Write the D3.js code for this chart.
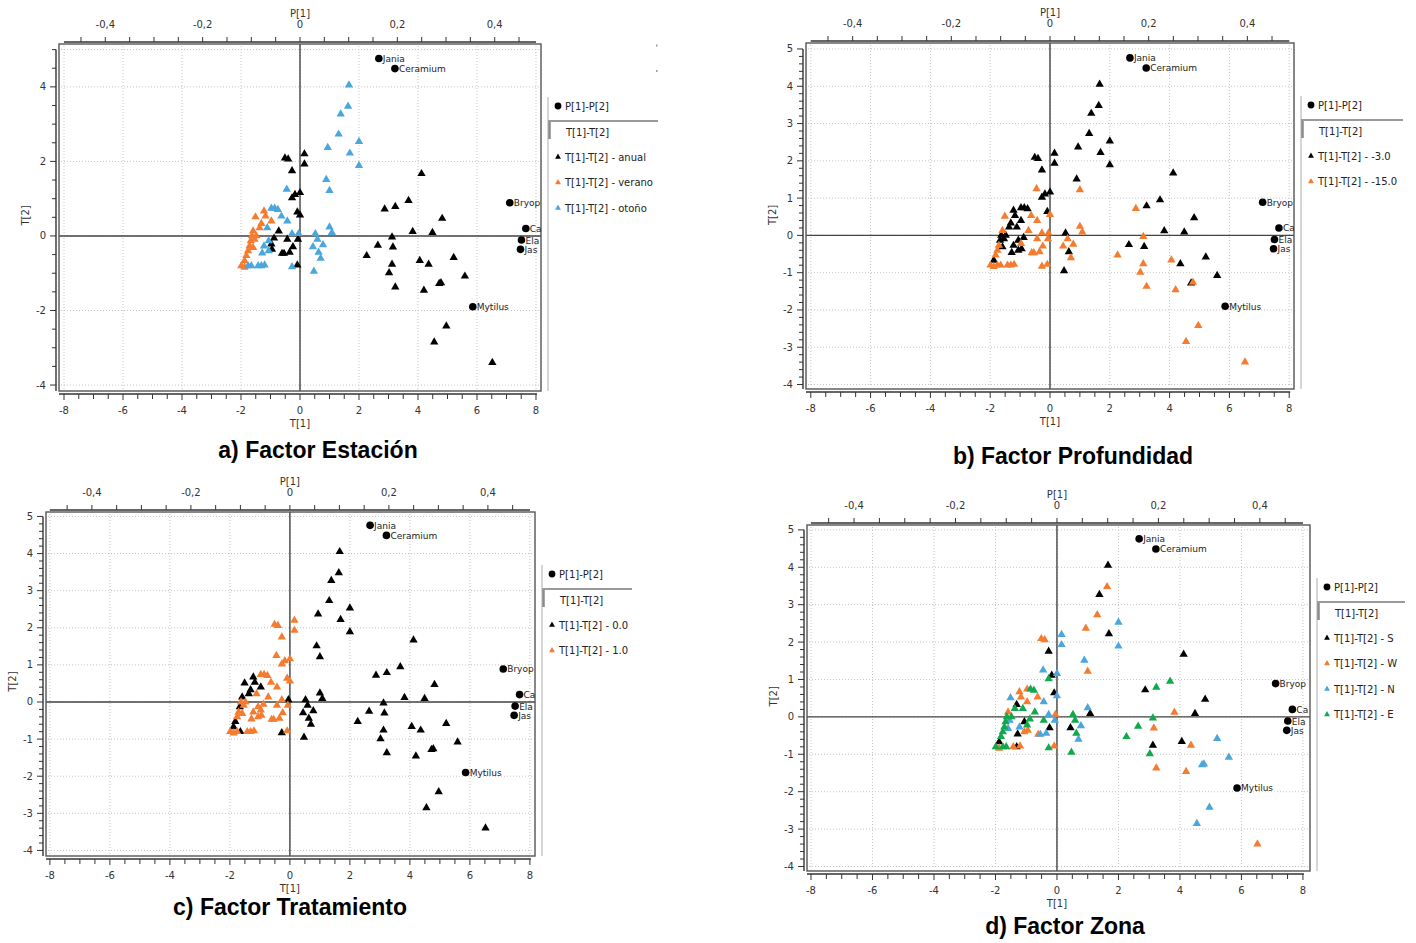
<!DOCTYPE html>
<html><head><meta charset="utf-8">
<script src="https://cdn.jsdelivr.net/npm/d3@7"></script>
<style>body{margin:0;background:#fff;} svg{display:block;}</style>
</head><body>
<svg id="chart" width="1416" height="943"></svg>
<script>
// ---------- DATA ----------
// Observation scores (same samples in every panel)
const scoresT1 = [
  1.66, 1.63, 1.38, 1.31, 0.94, 1.69, 2.00, 2.00, 0.89, 1.00,
  -0.51, -0.40, 0.15, 0.15, -0.27, -0.17, 0.00, -0.27, -0.09, 0.00, -0.45,
  4.12, 3.68, 3.23, 2.87, 4.82, 3.82, 4.49, 3.12, 2.64, 3.15, 2.26, 4.06, 4.36, 5.21, 3.12, 3.02, 5.59, 4.78, 3.23, 4.20, 4.96, 4.55, 6.52, 4.72,
  -1.51, -1.22, -1.17, -1.31, -0.97, -1.37, -1.59, -1.63, -1.67, -1.54,
  -1.71, -1.76, -1.82, -1.88, -1.99, -1.88, -1.48, -1.59, -0.97, -0.86,
  -0.75, -0.63, -0.43, -1.11, -0.27, -0.05, 1.00, 1.08, 0.52, 0.59,
  0.44, 0.78, 0.63, 0.70, 0.47, -0.27, -1.06, -1.22, -1.28, -1.06,
  -1.76, -1.65, -1.42, -1.31, -1.20, -0.72, -0.88, -0.97, -0.95, -0.61,
  -0.54, -0.43, -0.35, -0.24, -0.07, -0.09
];
const scoresT2 = [
  4.05, 3.48, 3.27, 2.73, 2.37, 2.22, 2.53, 1.89, 1.51, 1.22,
  2.09, 2.06, 2.20, 1.93, 1.75, 1.11, 1.16, 1.02, 0.64, 0.56, 1.25,
  1.67, 0.95, 0.79, 0.72, 0.47, 0.12, 0.09, -0.03, -0.25, -0.30, -0.53, -0.66, -0.76, -0.58, -0.76, -0.99, -1.08, -1.26, -1.37, -1.46, -2.42, -2.85, -3.40, -1.28,
  0.51, 0.67, 0.53, 0.33, 0.40, 0.22, 0.13, 0.00, -0.13, -0.09,
  -0.27, -0.40, -0.53, -0.67, -0.80, -0.84, 0.00, -0.31, 0.74, 0.74,
  0.71, 0.53, 0.40, 0.22, 0.06, 0.06, 0.24, 0.09, 0.06, -0.09,
  -0.29, -0.24, -0.44, -0.60, -0.95, -0.83, -0.13, -0.27, -0.46, -0.40,
  -0.80, -0.80, -0.80, -0.80, -0.78, 0.13, -0.06, -0.22, -0.36, -0.47,
  -0.47, -0.09, -0.44, -0.29, -0.09, -0.78
];
// Group index of each sample for each factor
const groupsEstacion = [
  2,2,2,2,2,2,2,2,2,2,
  0,0,0,0,0,0,0,0,0,0,2,
  0,0,0,0,0,0,0,0,0,0,0,0,0,0,0,0,0,0,0,0,0,0,0,0,
  1,1,1,1,1,1,1,1,1,1, 1,1,1,1,1,1,1,1,2,2,
  2,2,2,2,2,2,2,2,2,2, 2,2,2,2,2,2,2,2,2,2,
  2,2,2,2,2,0,0,0,0,0, 0,0,0,0,0,0
];
const groupsProfundidad = [
  0,0,0,0,0,0,0,0,0,1,
  0,0,0,0,0,0,0,0,0,1,1,
  0,0,0,1,0,0,0,1,0,0,1,1,0,0,1,1,0,1,1,1,1,1,1,0,
  1,0,0,0,0,0,1,0,0,0, 1,1,1,0,1,1,0,0,0,0,
  0,1,1,0,1,1,1,1,0,1, 1,1,0,1,0,1,0,0,0,0,
  1,1,1,1,1,1,0,1,0,1, 1,1,1,1,1,1
];
const groupsTratamiento = [
  0,0,0,0,0,0,0,0,0,0,
  1,1,1,1,1,1,1,1,1,1,1,
  0,0,0,0,0,0,0,0,0,0,0,0,0,0,0,0,0,0,0,0,0,0,0,0,
  0,0,0,0,0,0,0,1,0,1, 1,1,0,0,1,1,1,1,1,1,
  1,1,1,1,1,0,0,0,0,0, 0,0,0,0,0,0,1,1,1,1,
  1,0,1,1,1,1,1,1,1,1, 1,1,1,1,1,1
];
const groupsZona = [
  0,1,0,1,1,0,2,2,2,1,
  1,1,2,2,0,0,2,3,0,2,2,
  0,3,3,0,0,1,0,3,3,1,3,0,1,2,0,3,2,2,1,1,2,2,1,2,
  2,1,1,0,1,3,1,3,3,2, 3,3,3,0,3,1,3,2,1,3,
  3,1,2,3,2,1,2,0,3,3, 0,2,3,2,3,3,0,2,0,1,
  3,3,1,0,1,3,3,3,1,1, 2,3,2,0,2,1
];
// Variable loadings (P[1], P[2])
const loadingNames = ["Jania", "Ceramium", "Bryop", "Ca", "Ela", "Jas", "Mytilus"];
const loadingsP1 = [0.162, 0.195, 0.431, 0.464, 0.455, 0.453, 0.355];
const loadingsP2 = [0.476, 0.449, 0.089, 0.020, -0.011, -0.036, -0.190];
// Legend / series labels
const seriesEstacion = ["T[1]-T[2] - anual", "T[1]-T[2] - verano", "T[1]-T[2] - otoño"];
const seriesProfundidad = ["T[1]-T[2] - -3.0", "T[1]-T[2] - -15.0"];
const seriesTratamiento = ["T[1]-T[2] - 0.0", "T[1]-T[2] - 1.0"];
const seriesZona = ["T[1]-T[2] - S", "T[1]-T[2] - W", "T[1]-T[2] - N", "T[1]-T[2] - E"];
const captions = ["a) Factor Estación", "b) Factor Profundidad", "c) Factor Tratamiento", "d) Factor Zona"];
// Tick labels
const t1TickLabels = [-8, -6, -4, -2, 0, 2, 4, 6, 8];
const p1TickLabels = [-0.4, -0.2, 0, 0.2, 0.4];

// ---------- STYLE / LAYOUT ----------
const COL = {black: "#000000", orange: "#F47C30", blue: "#4BA6DC", green: "#12A84E"};
const P1_RATIO = 16.5;   // T[1] units per P[1] unit
const P2_RATIO = 10;     // T[2] units per P[2] unit
const FONT = "'DejaVu Sans', Verdana, sans-serif";

const panels = [
  {caption: captions[0], groups: groupsEstacion, series: seriesEstacion,
   colors: [COL.black, COL.orange, COL.blue],
   frame: {l: 59, r: 541, t: 44, b: 391}, xDom: [-8.17, 8.17], yDom: [-4.16, 5.15],
   yLabels: [-4, -2, 0, 2, 4], yMinor: 0.5, yGrid: [-4, -2, 0, 2, 4, 5], cap: [318, 450], marks: true, sep: 117},
  {caption: captions[1], groups: groupsProfundidad, series: seriesProfundidad,
   colors: [COL.black, COL.orange],
   frame: {l: 806, r: 1294, t: 43, b: 389}, xDom: [-8.16, 8.16], yDom: [-4.12, 5.16],
   yLabels: [-4, -3, -2, -1, 0, 1, 2, 3, 4, 5], yMinor: 0.2, yGrid: [-4, -3, -2, -1, 0, 1, 2, 3, 4, 5], cap: [1073, 456], sep: 109},
  {caption: captions[2], groups: groupsTratamiento, series: seriesTratamiento,
   colors: [COL.black, COL.orange],
   frame: {l: 46, r: 535, t: 512, b: 856}, xDom: [-8.13, 8.17], yDom: [-4.15, 5.12],
   yLabels: [-4, -3, -2, -1, 0, 1, 2, 3, 4, 5], yMinor: 0.2, yGrid: [-4, -3, -2, -1, 0, 1, 2, 3, 4, 5], cap: [290, 907], sep: 97},
  {caption: captions[3], groups: groupsZona, series: seriesZona,
   colors: [COL.black, COL.orange, COL.blue, COL.green],
   frame: {l: 807, r: 1310, t: 525, b: 871}, xDom: [-8.13, 8.23], yDom: [-4.12, 5.13],
   yLabels: [-4, -3, -2, -1, 0, 1, 2, 3, 4, 5], yMinor: 0.2, yGrid: [-4, -3, -2, -1, 0, 1, 2, 3, 4, 5], cap: [1065, 926], sep: 95}
];

const svg = d3.select("#chart");
const tri = d3.symbol().type(d3.symbolTriangle).size(30);
const triLegend = d3.symbol().type(d3.symbolTriangle).size(15);
const fmtP = v => (v === 0 ? "0" : d3.format(".1f")(v).replace(".", ",").replace("−", "-"));

const samples = scoresT1.map((t1, i) => ({t1, t2: scoresT2[i], i}));
const loadings = loadingNames.map((name, i) => ({name, p1: loadingsP1[i], p2: loadingsP2[i]}));

panels.forEach((p, pi) => {
  const {l, r, t, b} = p.frame;
  const g = svg.append("g");
  const x = d3.scaleLinear().domain(p.xDom).range([l, r]);
  const y = d3.scaleLinear().domain(p.yDom).range([b, t]);
  const xp = d3.scaleLinear().domain(p.xDom.map(v => v / P1_RATIO)).range([l, r]);
  const yp = d3.scaleLinear().domain(p.yDom.map(v => v / P2_RATIO)).range([b, t]);

  const clipId = "clip" + pi;
  svg.append("clipPath").attr("id", clipId).append("rect")
    .attr("x", l).attr("y", t).attr("width", r - l).attr("height", b - t);

  // grid
  const grid = g.append("g").attr("stroke", "#c4c4c4").attr("stroke-dasharray", "1,2").attr("stroke-width", 1);
  grid.selectAll("line.v").data(t1TickLabels).join("line")
    .attr("x1", d => x(d)).attr("x2", d => x(d)).attr("y1", t + 2).attr("y2", b - 2);
  grid.selectAll("line.h").data(p.yGrid).join("line")
    .attr("y1", d => y(d)).attr("y2", d => y(d)).attr("x1", l + 2).attr("x2", r - 2);

  // zero lines
  g.append("line").attr("x1", x(0)).attr("x2", x(0)).attr("y1", t).attr("y2", b)
    .attr("stroke", "#444").attr("stroke-width", 1.4);
  g.append("line").attr("x1", l).attr("x2", r).attr("y1", y(0)).attr("y2", y(0))
    .attr("stroke", "#444").attr("stroke-width", 1.4);

  // frame
  g.append("rect").attr("x", l).attr("y", t).attr("width", r - l).attr("height", b - t)
    .attr("fill", "none").attr("stroke", "#555").attr("stroke-width", 1.4);

  // bottom axis T[1]
  const by = b + 3;
  g.append("line").attr("x1", l).attr("x2", x(8) + 1).attr("y1", by).attr("y2", by)
    .attr("stroke", "#333").attr("stroke-width", 1.4);
  g.append("g").selectAll("line").data(d3.range(-8, 8.001, 0.5)).join("line")
    .attr("x1", d => x(d)).attr("x2", d => x(d)).attr("y1", by).attr("y2", d => by + (Number.isInteger(d / 2) ? 6 : 5))
    .attr("stroke", "#333").attr("stroke-width", 1);
  g.append("g").selectAll("text").data(t1TickLabels).join("text")
    .attr("x", d => x(d)).attr("y", b + 23).attr("text-anchor", "middle")
    .attr("font-family", FONT).attr("font-size", 10).attr("fill", "#333").text(d => d);
  g.append("text").attr("x", x(0)).attr("y", b + 36).attr("text-anchor", "middle")
    .attr("font-family", FONT).attr("font-size", 10).attr("fill", "#333").text("T[1]");

  // top axis P[1]
  const ty = t - 2;
  g.append("line").attr("x1", xp(-0.485)).attr("x2", xp(0.485)).attr("y1", ty).attr("y2", ty)
    .attr("stroke", "#333").attr("stroke-width", 1.4);
  g.append("g").selectAll("line").data(d3.range(-0.45, 0.4501, 0.05)).join("line")
    .attr("x1", d => xp(d)).attr("x2", d => xp(d)).attr("y1", ty).attr("y2", ty - 5)
    .attr("stroke", "#333").attr("stroke-width", 1);
  g.append("g").selectAll("text").data(p1TickLabels).join("text")
    .attr("x", d => xp(d)).attr("y", t - 16).attr("text-anchor", "middle")
    .attr("font-family", FONT).attr("font-size", 10).attr("fill", "#333").text(d => fmtP(d));
  g.append("text").attr("x", xp(0)).attr("y", t - 27).attr("text-anchor", "middle")
    .attr("font-family", FONT).attr("font-size", 10).attr("fill", "#333").text("P[1]");

  // left axis T[2]
  const lx = l - 3;
  g.append("line").attr("x1", lx).attr("x2", lx).attr("y1", y(5)).attr("y2", b)
    .attr("stroke", "#333").attr("stroke-width", 1.4);
  const minorY = d3.range(-4, 5.0001, p.yMinor).map(v => Math.round(v * 10) / 10);
  g.append("g").selectAll("line").data(minorY).join("line")
    .attr("y1", d => y(d)).attr("y2", d => y(d)).attr("x1", lx)
    .attr("x2", d => lx - (p.yLabels.includes(d) ? 6 : 4))
    .attr("stroke", "#333").attr("stroke-width", 1);
  g.append("g").selectAll("text").data(p.yLabels).join("text")
    .attr("x", lx - 10).attr("y", d => y(d) + 3.5).attr("text-anchor", "end")
    .attr("font-family", FONT).attr("font-size", 10).attr("fill", "#333").text(d => d);
  g.append("text").attr("transform", `translate(${l - 30},${y(0.55)}) rotate(-90)`)
    .attr("text-anchor", "middle").attr("font-family", FONT).attr("font-size", 10)
    .attr("fill", "#333").text("T[2]");

  // score triangles
  const pts = g.append("g");
  p.series.forEach((s, si) => {
    pts.append("g").selectAll("path").data(samples.filter(d => p.groups[d.i] === si)).join("path")
      .attr("d", tri).attr("transform", d => `translate(${x(d.t1)},${y(d.t2)})`)
      .attr("fill", p.colors[si]);
  });

  // loadings
  const lg = g.append("g").attr("clip-path", `url(#${clipId})`);
  lg.selectAll("circle").data(loadings).join("circle")
    .attr("cx", d => xp(d.p1)).attr("cy", d => yp(d.p2)).attr("r", 3.8).attr("fill", "#000");
  lg.selectAll("text").data(loadings).join("text")
    .attr("x", d => xp(d.p1) + 4).attr("y", d => yp(d.p2) + 3.5)
    .attr("font-family", FONT).attr("font-size", 9).attr("fill", "#222").text(d => d.name);

  // legend
  const L = g.append("g");
  L.append("line").attr("x1", r + 7).attr("x2", r + 7).attr("y1", t + 53).attr("y2", b)
    .attr("stroke", "#c8c8c8").attr("stroke-width", 1.5);
  L.append("circle").attr("cx", r + 17).attr("cy", t + 62).attr("r", 3.4).attr("fill", "#000");
  L.append("text").attr("x", r + 24).attr("y", t + 65.5).attr("font-family", FONT)
    .attr("font-size", 10).attr("fill", "#222").text("P[1]-P[2]");
  L.append("line").attr("x1", r + 7).attr("x2", r + p.sep).attr("y1", t + 77).attr("y2", t + 77)
    .attr("stroke", "#9a9a9a").attr("stroke-width", 2);
  L.append("line").attr("x1", r + 8.5).attr("x2", r + 8.5).attr("y1", t + 78).attr("y2", t + 95)
    .attr("stroke", "#8a8a8a").attr("stroke-width", 2.5);
  L.append("text").attr("x", r + 25).attr("y", t + 91.5).attr("font-family", FONT)
    .attr("font-size", 10).attr("fill", "#222").text("T[1]-T[2]");
  p.series.forEach((s, si) => {
    const yy = t + 113 + 25.5 * si;
    L.append("path").attr("d", triLegend).attr("transform", `translate(${r + 17},${yy})`)
      .attr("fill", p.colors[si]);
    L.append("text").attr("x", r + 24).attr("y", yy + 3.5).attr("font-family", FONT)
      .attr("font-size", 10).attr("fill", "#222").text(s);
  });
  if (p.marks) {
    L.append("rect").attr("x", r + 115).attr("y", t + 0.5).attr("width", 1.5).attr("height", 2).attr("fill", "#999");
    L.append("rect").attr("x", r + 115).attr("y", t + 26).attr("width", 1.5).attr("height", 2).attr("fill", "#999");
  }

  // caption
  svg.append("text").attr("x", p.cap[0]).attr("y", p.cap[1] + 8).attr("text-anchor", "middle")
    .attr("font-family", "'Liberation Sans', Arial, sans-serif").attr("font-weight", "bold")
    .attr("font-size", 23).attr("fill", "#000").text(p.caption);
});
</script>
</body></html>
